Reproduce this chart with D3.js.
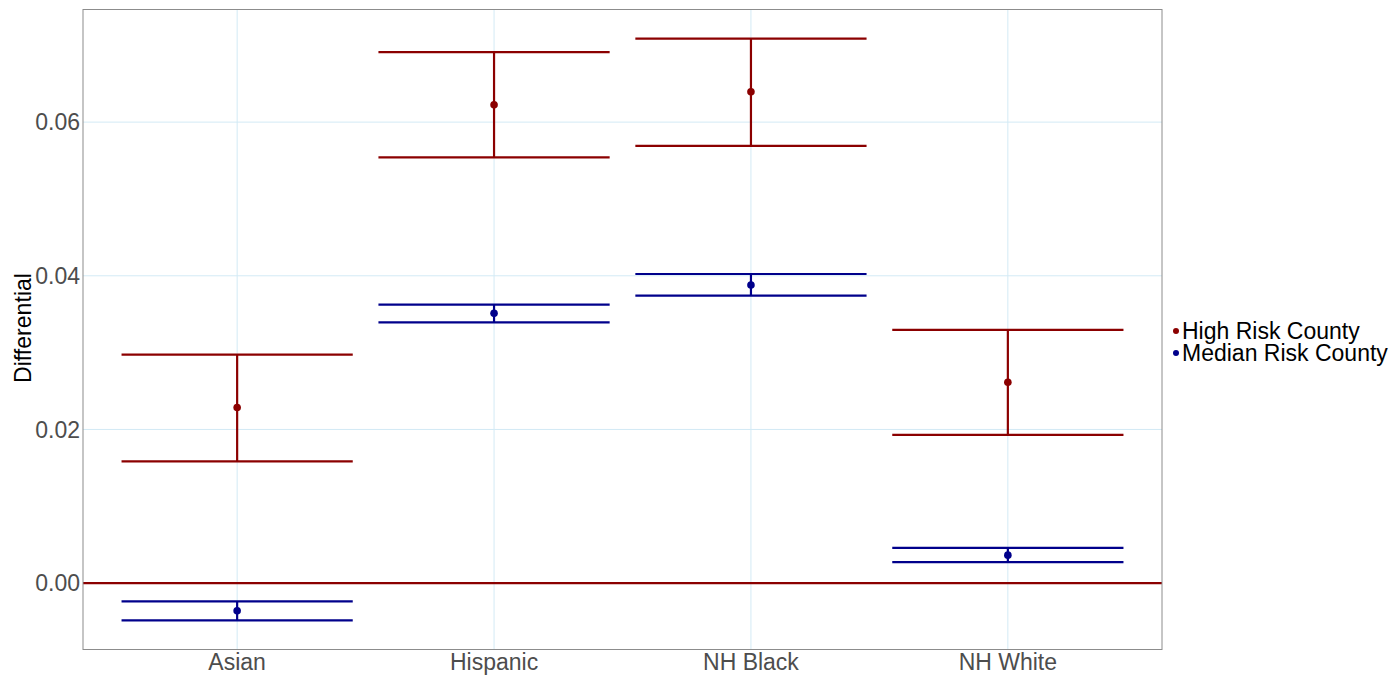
<!DOCTYPE html>
<html>
<head>
<meta charset="utf-8">
<script src="https://cdn.jsdelivr.net/npm/d3@7"></script>
<style>
  body { margin: 0; background: #fff; }
  svg { display: block; font-family: "Liberation Sans", Arial, sans-serif; }
</style>
</head>
<body>
<svg id="chart" width="1394" height="675"></svg>
<script>
// Groups on the x axis
const categories = ["Asian", "Hispanic", "NH Black", "NH White"];

// Series: estimate with lower / upper confidence bounds
const seriesNames = ["High Risk County", "Median Risk County"];
const seriesColors = ["#8B0000", "#00008B"];

const highEstimate = [0.02285, 0.06225, 0.06394, 0.02614];
const highLower    = [0.01586, 0.05540, 0.05692, 0.01930];
const highUpper    = [0.02974, 0.06910, 0.07087, 0.03295];

const medianEstimate = [-0.00359, 0.03511, 0.03880, 0.00364];
const medianLower    = [-0.00485, 0.03394, 0.03741, 0.00273];
const medianUpper    = [-0.00238, 0.03624, 0.04023, 0.00460];

const yTicks = [0.00, 0.02, 0.04, 0.06];

const series = [
  { name: seriesNames[0], color: seriesColors[0], est: highEstimate, lo: highLower, hi: highUpper },
  { name: seriesNames[1], color: seriesColors[1], est: medianEstimate, lo: medianLower, hi: medianUpper }
];

const svg = d3.select("#chart");
const panel = { left: 83, top: 9.5, right: 1162, bottom: 649.5 };

// Continuous y range with 5% padding on both sides
const allVals = series.flatMap(s => s.lo.concat(s.hi));
const yMin = d3.min(allVals), yMax = d3.max(allVals);
const pad = (yMax - yMin) * 0.05;
const y = d3.scaleLinear().domain([yMin - pad, yMax + pad]).range([panel.bottom, panel.top]);

// Discrete x positions with 0.6-unit padding at each end
const xIdx = d3.scaleLinear().domain([0.4, categories.length + 0.6]).range([panel.left, panel.right]);
const x = c => xIdx(categories.indexOf(c) + 1);
const halfBar = xIdx(1.45) - xIdx(1);

// Grid lines
const grid = svg.append("g");
grid.selectAll("line.h").data(yTicks).join("line")
  .attr("x1", panel.left).attr("x2", panel.right)
  .attr("y1", d => y(d)).attr("y2", d => y(d))
  .attr("stroke", "#d3eaf5").attr("stroke-width", 1);
grid.selectAll("line.v").data(categories).join("line")
  .attr("x1", d => x(d)).attr("x2", d => x(d))
  .attr("y1", panel.top).attr("y2", panel.bottom)
  .attr("stroke", "#d3eaf5").attr("stroke-width", 1);

// Reference line at zero
svg.append("line")
  .attr("x1", panel.left).attr("x2", panel.right)
  .attr("y1", y(0)).attr("y2", y(0))
  .attr("stroke", "#8B0000").attr("stroke-width", 2.2);

// Error bars and points
series.forEach(s => {
  const g = svg.append("g");
  const rows = categories.map((c, i) => ({ c, est: s.est[i], lo: s.lo[i], hi: s.hi[i] }));
  g.selectAll("line.lo").data(rows).join("line")
    .attr("x1", d => x(d.c) - halfBar).attr("x2", d => x(d.c) + halfBar)
    .attr("y1", d => y(d.lo)).attr("y2", d => y(d.lo))
    .attr("stroke", s.color).attr("stroke-width", 2.2);
  g.selectAll("line.hi").data(rows).join("line")
    .attr("x1", d => x(d.c) - halfBar).attr("x2", d => x(d.c) + halfBar)
    .attr("y1", d => y(d.hi)).attr("y2", d => y(d.hi))
    .attr("stroke", s.color).attr("stroke-width", 2.2);
  g.selectAll("line.v").data(rows).join("line")
    .attr("x1", d => x(d.c)).attr("x2", d => x(d.c))
    .attr("y1", d => y(d.lo)).attr("y2", d => y(d.hi))
    .attr("stroke", s.color).attr("stroke-width", 2.2);
  g.selectAll("circle").data(rows).join("circle")
    .attr("cx", d => x(d.c)).attr("cy", d => y(d.est)).attr("r", 3.8)
    .attr("fill", s.color);
});

// Panel border
svg.append("rect")
  .attr("x", panel.left).attr("y", panel.top)
  .attr("width", panel.right - panel.left).attr("height", panel.bottom - panel.top)
  .attr("fill", "none").attr("stroke", "#8c8c8c").attr("stroke-width", 1);

// Y axis tick labels
svg.append("g").selectAll("text").data(yTicks).join("text")
  .attr("x", 80).attr("y", d => y(d)).attr("dy", "0.36em")
  .attr("text-anchor", "end").attr("font-size", 23).attr("fill", "#4d4d4d")
  .text(d3.format(".2f"));

// X axis labels
svg.append("g").selectAll("text").data(categories).join("text")
  .attr("x", d => x(d)).attr("y", 670)
  .attr("text-anchor", "middle").attr("font-size", 23).attr("fill", "#4d4d4d")
  .text(d => d);

// Y axis title
svg.append("text")
  .attr("transform", `translate(31, 328) rotate(-90)`)
  .attr("text-anchor", "middle").attr("font-size", 24).attr("fill", "#000")
  .attr("textLength", 110).attr("lengthAdjust", "spacingAndGlyphs")
  .text("Differential");

// Legend
const legend = svg.append("g").attr("transform", "translate(1176, 331)");
series.forEach((s, i) => {
  legend.append("circle").attr("cx", 0).attr("cy", i * 22).attr("r", 3).attr("fill", s.color);
  legend.append("text").attr("x", 6).attr("y", i * 22).attr("dy", "0.36em")
    .attr("font-size", 23).attr("fill", "#000").text(s.name);
});
</script>
</body>
</html>
